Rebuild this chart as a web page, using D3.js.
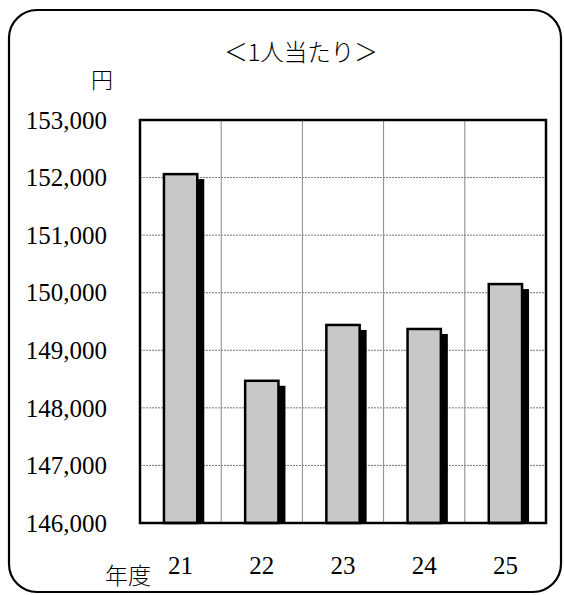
<!DOCTYPE html>
<html>
<head>
<meta charset="utf-8">
<script src="https://cdn.jsdelivr.net/npm/d3@7"></script>
<style>
body { margin: 0; background: #fff; }
</style>
</head>
<body>
<svg id="chart" width="564" height="595"></svg>
<script>
// per person cost, yen
var years = ['21', '22', '23', '24', '25'];
var values = [152060, 148470, 149440, 149370, 150150];
var yTicks = [146000, 147000, 148000, 149000, 150000, 151000, 152000, 153000];

var SERIF = '"Liberation Serif", serif';
var JP = '"Noto Sans CJK JP", sans-serif';

function draw() {
    var svg = d3.select('#chart');
    var pLeft = 140, pRight = 546, pTop = 120, pBottom = 523;

    // outer rounded frame
    svg.append('rect')
        .attr('x', 9).attr('y', 10)
        .attr('width', 552).attr('height', 582)
        .attr('rx', 28).attr('ry', 28)
        .attr('fill', 'none')
        .attr('stroke', '#000')
        .attr('stroke-width', 2.2);

    var x = d3.scaleBand().domain(years).range([pLeft, pRight]);
    var y = d3.scaleLinear().domain([146000, 153000]).range([pBottom, pTop]);

    // horizontal dotted grid
    svg.selectAll('line.hgrid')
        .data(yTicks.slice(1, -1))
        .enter().append('line')
        .attr('class', 'hgrid')
        .attr('x1', pLeft).attr('x2', pRight)
        .attr('y1', function(d) { return y(d) })
        .attr('y2', function(d) { return y(d) })
        .attr('stroke', '#777')
        .attr('stroke-width', 1)
        .attr('stroke-dasharray', '2,1');

    // vertical grid at band edges
    svg.selectAll('line.vgrid')
        .data(years.slice(1))
        .enter().append('line')
        .attr('class', 'vgrid')
        .attr('x1', function(d) { return x(d) })
        .attr('x2', function(d) { return x(d) })
        .attr('y1', pTop).attr('y2', pBottom)
        .attr('stroke', '#888')
        .attr('stroke-width', 1);

    var bw = x.bandwidth() * 0.41;
    var data = years.map(function(d, i) { return {year: d, value: values[i]} });

    // shadows
    svg.selectAll('rect.shadow')
        .data(data)
        .enter().append('rect')
        .attr('class', 'shadow')
        .attr('x', function(d) { return x(d.year) + (x.bandwidth() - bw) / 2 + 7 })
        .attr('y', function(d) { return y(d.value) + 5 })
        .attr('width', bw)
        .attr('height', function(d) { return pBottom - y(d.value) - 5 })
        .attr('fill', '#000');

    // bars
    svg.selectAll('rect.bar')
        .data(data)
        .enter().append('rect')
        .attr('class', 'bar')
        .attr('x', function(d) { return x(d.year) + (x.bandwidth() - bw) / 2 })
        .attr('y', function(d) { return y(d.value) })
        .attr('width', bw)
        .attr('height', function(d) { return pBottom - y(d.value) })
        .attr('fill', '#c8c8c8')
        .attr('stroke', '#000')
        .attr('stroke-width', 2.5);

    // plot frame
    svg.append('rect')
        .attr('x', pLeft).attr('y', pTop)
        .attr('width', pRight - pLeft).attr('height', pBottom - pTop)
        .attr('fill', 'none')
        .attr('stroke', '#000')
        .attr('stroke-width', 2.5);

    // y labels
    var fmt = d3.format(',');
    svg.selectAll('text.ylab')
        .data(yTicks)
        .enter().append('text')
        .attr('class', 'ylab')
        .attr('x', 107)
        .attr('y', function(d) { return y(d) })
        .attr('dy', '0.35em')
        .attr('text-anchor', 'end')
        .style('font-family', SERIF)
        .style('font-size', '25px')
        .attr('fill', '#000')
        .text(function(d) { return fmt(d) });

    // x labels
    svg.selectAll('text.xlab')
        .data(years)
        .enter().append('text')
        .attr('class', 'xlab')
        .attr('x', function(d) { return x(d) + x.bandwidth() / 2 })
        .attr('y', 565)
        .attr('dy', '0.35em')
        .attr('text-anchor', 'middle')
        .style('font-family', SERIF)
        .style('font-size', '25px')
        .attr('fill', '#000')
        .text(function(d) { return d });

    var jp = [
        {t: '年度', x: 128, y: 576, s: 23},
        {t: '円', x: 102, y: 80, s: 22},
        {t: '＜1人当たり＞', x: 301, y: 53, s: 23.5}
    ];
    svg.selectAll('text.jp')
        .data(jp)
        .enter().append('text')
        .attr('class', 'jp')
        .attr('x', function(d) { return d.x })
        .attr('y', function(d) { return d.y })
        .attr('dy', '0.35em')
        .attr('text-anchor', 'middle')
        .style('font-family', JP)
        .style('font-weight', 300)
        .style('font-size', function(d) { return d.s + 'px' })
        .attr('fill', '#000')
        .text(function(d) { return d.t });
}

draw();
</script>
</body>
</html>
